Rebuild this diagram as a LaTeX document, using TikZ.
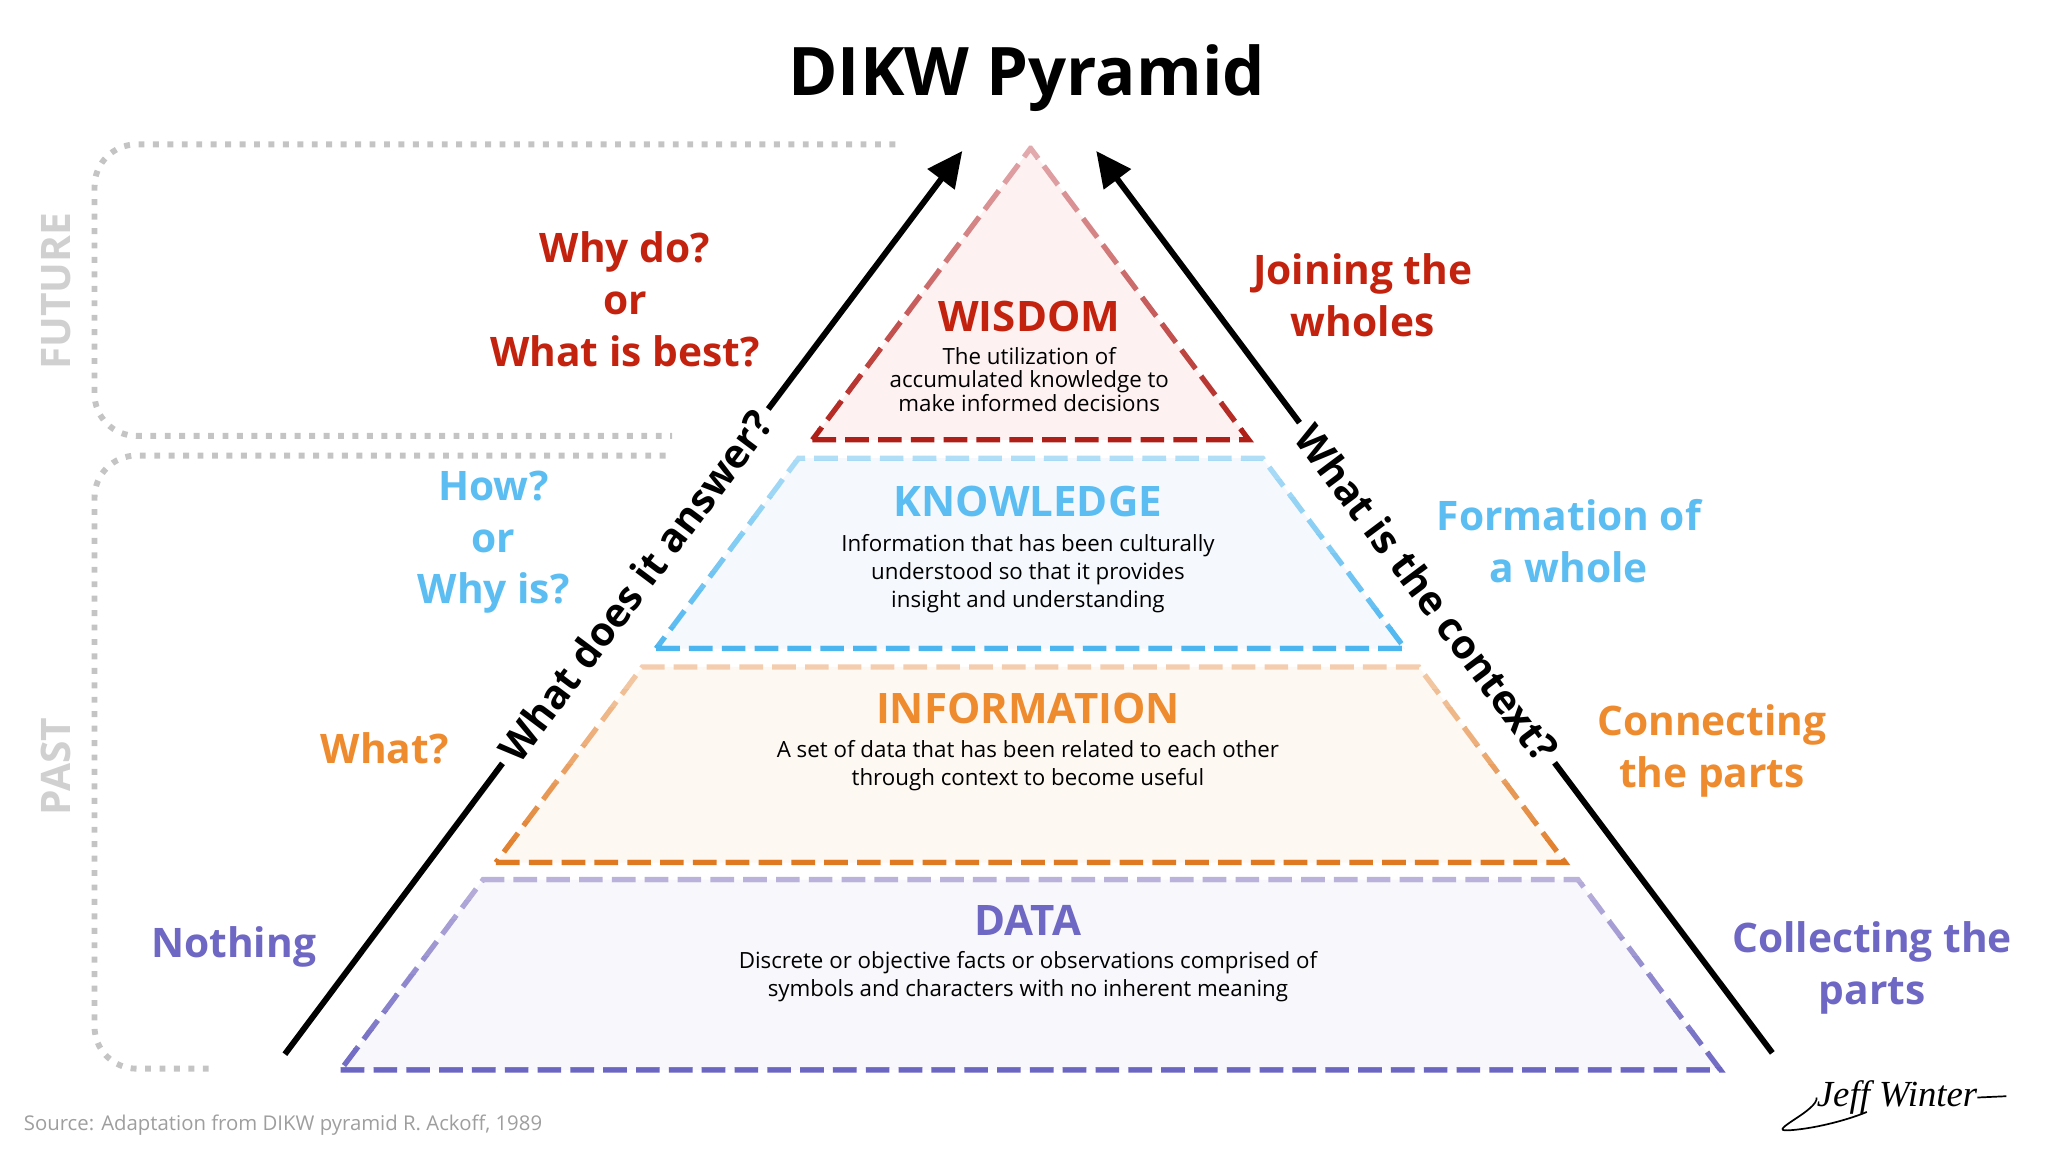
\documentclass[tikz,border=0pt]{standalone}
\usepackage{fontspec}
\setmainfont{Open Sans}
\newfontfamily\sigfont{Liberation Serif}
\usetikzlibrary{arrows.meta}
\definecolor{cRed}{HTML}{C3220F}
\definecolor{cBlue}{HTML}{5BBDF1}
\definecolor{cOrange}{HTML}{EE8B2F}
\definecolor{cPurple}{HTML}{6E67C3}
\definecolor{cGrayTxt}{HTML}{D0D0D0}
\definecolor{cDot}{HTML}{C4C4C4}
\definecolor{cSrc}{HTML}{9E9E9E}
\definecolor{wTop}{HTML}{E3AAAE}
\definecolor{wBot}{HTML}{B01E18}
\definecolor{wFill}{HTML}{FDF1F1}
\definecolor{kTop}{HTML}{B0DEF7}
\definecolor{kBot}{HTML}{4BB5F0}
\definecolor{kFill}{HTML}{F5F8FC}
\definecolor{iTop}{HTML}{F4CDAE}
\definecolor{iBot}{HTML}{E07A22}
\definecolor{iFill}{HTML}{FEF8F2}
\definecolor{dTop}{HTML}{BBB2DB}
\definecolor{dBot}{HTML}{6C66C3}
\definecolor{dFill}{HTML}{F8F7FB}
\begin{document}
\begin{tikzpicture}[x=1pt,y=-1pt,
  lbl/.style={font=\fontsize{31}{39.5}\selectfont\bfseries, align=center},
  ttl/.style={font=\fontsize{32}{36}\selectfont\bfseries},
  desc/.style={font=\fontsize{17}{21.5}\selectfont, align=center, text=black},
  side/.style={font=\fontsize{31}{36}\selectfont\bfseries, text=cGrayTxt, rotate=90},
  qtext/.style={font=\fontsize{30.5}{36}\selectfont\bfseries, inner sep=6pt},
  arrowline/.style={line width=4.5pt, draw=black},
  layerline/.style={line width=4pt, dash pattern=on 18pt off 7pt},
  dotbox/.style={draw=cDot, line width=4.5pt, dash pattern=on 4.5pt off 6.5pt, rounded corners=32pt},
]
\useasboundingbox (0,0) rectangle (1560,886);

% past / future dotted frames
\draw[dotbox] (682,110) -- (72,110) -- (72,332) -- (512,332);
\draw[dotbox] (507,347) -- (72,347) -- (72,814) -- (160,814);
\node[side] (fut) at (43,222) {FUTURE};
\node[side] (past) at (43,584) {PAST};

% pyramid layers
\foreach \yt/\yb/\xtl/\xtr/\xbl/\xbr/\fc/\tc/\bc in {
  113/335/784.95/785.05/618.8/951.2/wFill/wTop/wBot,
  349/494/608.3/961.7/499.8/1070.2/kFill/kTop/kBot,
  508/657/489.3/1080.7/377.8/1192.2/iFill/iTop/iBot,
  670/815/368/1202/259.5/1310.5/dFill/dTop/dBot}{
  \fill[fill=\fc] (\xbl,\yb) -- (\xbr,\yb) -- (\xtr,\yt) -- (\xtl,\yt) -- cycle;
  \foreach \i in {0,...,11}{
    \pgfmathsetmacro\ya{\yt-12+(\yb-\yt+24)*\i/12}
    \pgfmathsetmacro\yz{\yt-12+(\yb-\yt+24)*(\i+1)/12}
    \pgfmathtruncatemacro\pc{round(100*\i/11)}
    \colorlet{strk}{\bc!\pc!\tc}
    \begin{scope}
      \clip (0,\ya) rectangle (1560,\yz);
      \draw[layerline, draw=strk] (\xbl,\yb) -- (\xbr,\yb) -- (\xtr,\yt) -- (\xtl,\yt) -- cycle;
    \end{scope}
  }
}

% title
\node[font=\fontsize{51}{60}\selectfont\bfseries, anchor=base] (title) at (782,73) {DIKW Pyramid};

% layer texts
\node[ttl, text=cRed] (wis) at (784,241) {WISDOM};
\node[desc, font=\fontsize{17}{18}\selectfont] (wisd) at (784,289) {The utilization of\\accumulated knowledge to\\make informed decisions};
\node[ttl, text=cBlue] (kno) at (783,382) {KNOWLEDGE};
\node[desc] (knod) at (783,437) {Information that has been culturally\\understood so that it provides\\insight and understanding};
\node[ttl, text=cOrange] (inf) at (783,540) {INFORMATION};
\node[desc] (infd) at (783,583) {A set of data that has been related to each other\\through context to become useful};
\node[ttl, text=cPurple] (dat) at (783,701) {DATA};
\node[desc] (datd) at (783,744) {Discrete or objective facts or observations comprised of\\symbols and characters with no inherent meaning};

% arrows with their questions
\coordinate (L0) at (217,803);
\coordinate (L3) at (733,115);
\node[qtext, rotate=53.13] (qa) at (484,446.5) {What does it answer?};
\draw[arrowline] (L0) -- (qa.west);
\draw[arrowline, -{Triangle[length=27pt,width=25pt]}] (qa.east) -- (L3);

\coordinate (R0) at (1350,802);
\coordinate (R3) at (835,115);
\node[qtext, rotate=-53.13] (qc) at (1087,451.5) {What is the context?};
\draw[arrowline] (R0) -- (qc.east);
\draw[arrowline, -{Triangle[length=27pt,width=25pt]}] (qc.west) -- (R3);

% left labels
\node[lbl, text=cRed] (whydo) at (476,228) {Why do?\\or\\What is best?};
\node[lbl, text=cBlue] (how) at (376,413) {How?\\or\\Why is?};
\node[lbl, text=cOrange] (what) at (293,570) {What?};
\node[lbl, text=cPurple] (nothing) at (178,721) {Nothing};

% right labels
\node[lbl, text=cRed] (join) at (1038,225) {Joining the\\wholes};
\node[lbl, text=cBlue] (form) at (1195,412) {Formation of\\a whole};
\node[lbl, text=cOrange] (conn) at (1304,572) {Connecting\\the parts};
\node[lbl, text=cPurple] (coll) at (1426,737) {Collecting the\\parts};

% source
\node[anchor=west, inner sep=0pt, font=\fontsize{15.5}{20}\selectfont, text=cSrc] (src) at (18,857) {Source: Adaptation from DIKW pyramid R. Ackoff, 1989};

% signature
\node[inner sep=0pt, font=\sigfont\itshape\fontsize{28}{30}\selectfont] (sig) at (1445,836) {Jeff Winter};
\draw[line width=1.3pt] (sig.west) .. controls (1385,846) and (1345,862) .. (1362,861) .. controls (1380,860) and (1405,854) .. (1422,847);
\draw[line width=1.3pt] (sig.east) -- ++(22,-1);
\end{tikzpicture}
\end{document}
